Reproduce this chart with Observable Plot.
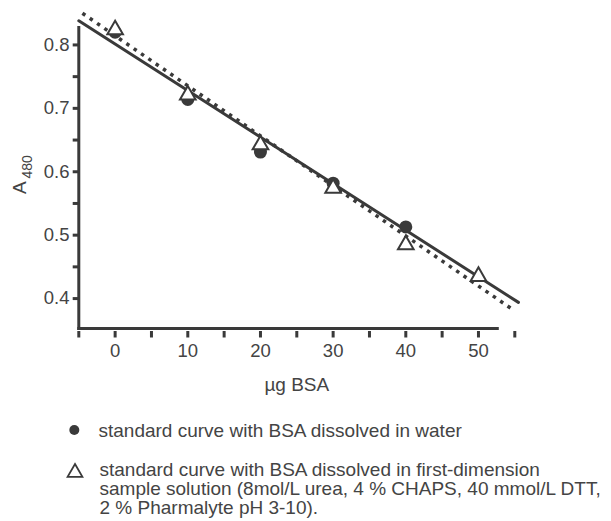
<!DOCTYPE html>
<html>
<head>
<meta charset="utf-8">
<script src="https://cdn.jsdelivr.net/npm/d3@7"></script>
<script src="https://cdn.jsdelivr.net/npm/@observablehq/plot@0.6"></script>
<style>
html, body { margin: 0; padding: 0; background: #fff; overflow: hidden; }
#wrap { position: relative; width: 611px; height: 521px; font-family: "Liberation Sans", Arial, Helvetica, sans-serif; color: #444; }
#chart svg { display: block; }
.leg { position: absolute; font-size: 19px; line-height: 19px; height: 19px; white-space: nowrap; color: #444; }
.sym { position: absolute; overflow: visible; }
</style>
</head>
<body>
<div id="wrap">
  <div id="chart"></div>
  <div id="legend"></div>
</div>
<script>
// ---- data ----
const waterBSA = [0, 10, 20, 30, 40];
const waterA480 = [0.820, 0.714, 0.631, 0.582, 0.513];
const sampleBSA = [0, 10, 20, 30, 40, 50];
const sampleA480 = [0.824, 0.721, 0.6425, 0.574, 0.485, 0.435];
// fitted straight lines (end points)
const waterFitBSA = [-5, 55.5];
const waterFitA480 = [0.838, 0.394];
const sampleFitBSA = [-4.5, 54.8];
const sampleFitA480 = [0.850, 0.382];
// axes
const xTicks = [-5, 0, 5, 10, 15, 20, 25, 30, 35, 40, 45, 50, 55];
const xTickLabels = [0, 10, 20, 30, 40, 50];
const yTicks = [0.4, 0.45, 0.5, 0.55, 0.6, 0.65, 0.7, 0.75, 0.8];
const yTickLabels = [0.4, 0.5, 0.6, 0.7, 0.8];
const xDomain = [-5, 55];
const yDomain = [0.3528, 0.8275];
const xTitle = "µg BSA";
const yTitleMain = "A";
const yTitleSub = "480";
const legendWater = "standard curve with BSA dissolved in water";
const legendSample = ["standard curve with BSA dissolved in first-dimension",
  "sample solution (8mol/L urea, 4 % CHAPS, 40 mmol/L DTT,",
  "2 % Pharmalyte pH 3-10)."];

// ---- tables ----
const water = waterBSA.map((x, i) => ({x, a: waterA480[i]}));
const sample = sampleBSA.map((x, i) => ({x, a: sampleA480[i]}));
const waterFit = waterFitBSA.map((x, i) => ({x, a: waterFitA480[i]}));
const sampleFit = sampleFitBSA.map((x, i) => ({x, a: sampleFitA480[i]}));

const LINE = "#3a3a3a";
const TEXT = "#444";
const mL = 78.3, mT = 27, W = 611, H = 400, mR = 96.7, mB = 72;

const chart = Plot.plot({
  width: W, height: H,
  marginLeft: mL, marginRight: mR, marginTop: mT, marginBottom: mB,
  x: {domain: xDomain, label: null},
  y: {domain: yDomain, label: null},
  style: {fontFamily: '"Liberation Sans", Arial, Helvetica, sans-serif', color: TEXT, background: "white", overflow: "visible"},
  marks: [
    Plot.frame({anchor: "left", stroke: LINE, strokeWidth: 3}),
    Plot.frame({anchor: "bottom", stroke: LINE, strokeWidth: 3, insetRight: 17.5}),
    Plot.axisY(yTicks, {tickSize: 5.6, tickFormat: () => "", stroke: LINE, strokeWidth: 3, label: null}),
    Plot.axisY(yTickLabels, {tickSize: 0, tickPadding: 9.3, fontSize: 18.5, tickFormat: d3.format(".1f"), label: null}),
    Plot.axisX(xTicks, {tickSize: 6.5, dy: 3, tickFormat: () => "", stroke: LINE, strokeWidth: 3, label: null}),
    Plot.axisX(xTickLabels, {tickSize: 0, tickPadding: 15, fontSize: 18.5, label: null}),
    Plot.line(waterFit, {x: "x", y: "a", stroke: LINE, strokeWidth: 3}),
    Plot.line(sampleFit, {x: "x", y: "a", stroke: LINE, strokeWidth: 3.5, strokeDasharray: "3.5 5.4", strokeLinecap: "butt"}),
    Plot.dot(water, {x: "x", y: "a", r: 6.5, fill: LINE, stroke: null}),
    Plot.dot(sample, {x: "x", y: "a", symbol: "triangle", r: 5.8, fill: "white", stroke: LINE, strokeWidth: 2}),
    Plot.text([yTitleMain], {frameAnchor: "left", rotate: -90, textAnchor: "start", lineAnchor: "bottom", dx: 25 - mL, dy: 193.5 - (mT + (H - mB)) / 2, fontSize: 19, fill: TEXT}),
    Plot.text([yTitleSub], {frameAnchor: "left", rotate: -90, textAnchor: "start", lineAnchor: "bottom", dx: 31.7 - mL, dy: 178 - (mT + (H - mB)) / 2, fontSize: 14, fill: TEXT}),
    Plot.text([xTitle], {frameAnchor: "bottom", lineAnchor: "bottom", dy: 62, fontSize: 19, fill: TEXT})
  ]
});
document.getElementById("chart").appendChild(chart);

// ---- legend (HTML below the SVG) ----
const lg = document.getElementById("legend");
const sampleLines = legendSample.map((t, i) =>
  `<div class="leg" style="left:99.5px;top:${459.5 + i * 19}px">${t}</div>`).join("");
lg.innerHTML = `
<svg class="sym" style="left:0;top:0" width="611" height="521"></svg>
<div class="leg" style="left:98.5px;top:421px">${legendWater}</div>
${sampleLines}`;
const s = d3.select(lg).select("svg").style("position", "absolute").style("pointer-events", "none");
s.append("circle").attr("cx", 74.3).attr("cy", 430).attr("r", 5).attr("fill", LINE);
s.append("path").attr("d", d3.symbol(d3.symbolTriangle, 95)()).attr("transform", "translate(75,472.5)")
  .attr("fill", "none").attr("stroke", LINE).attr("stroke-width", 1.8);
</script>
</body>
</html>
